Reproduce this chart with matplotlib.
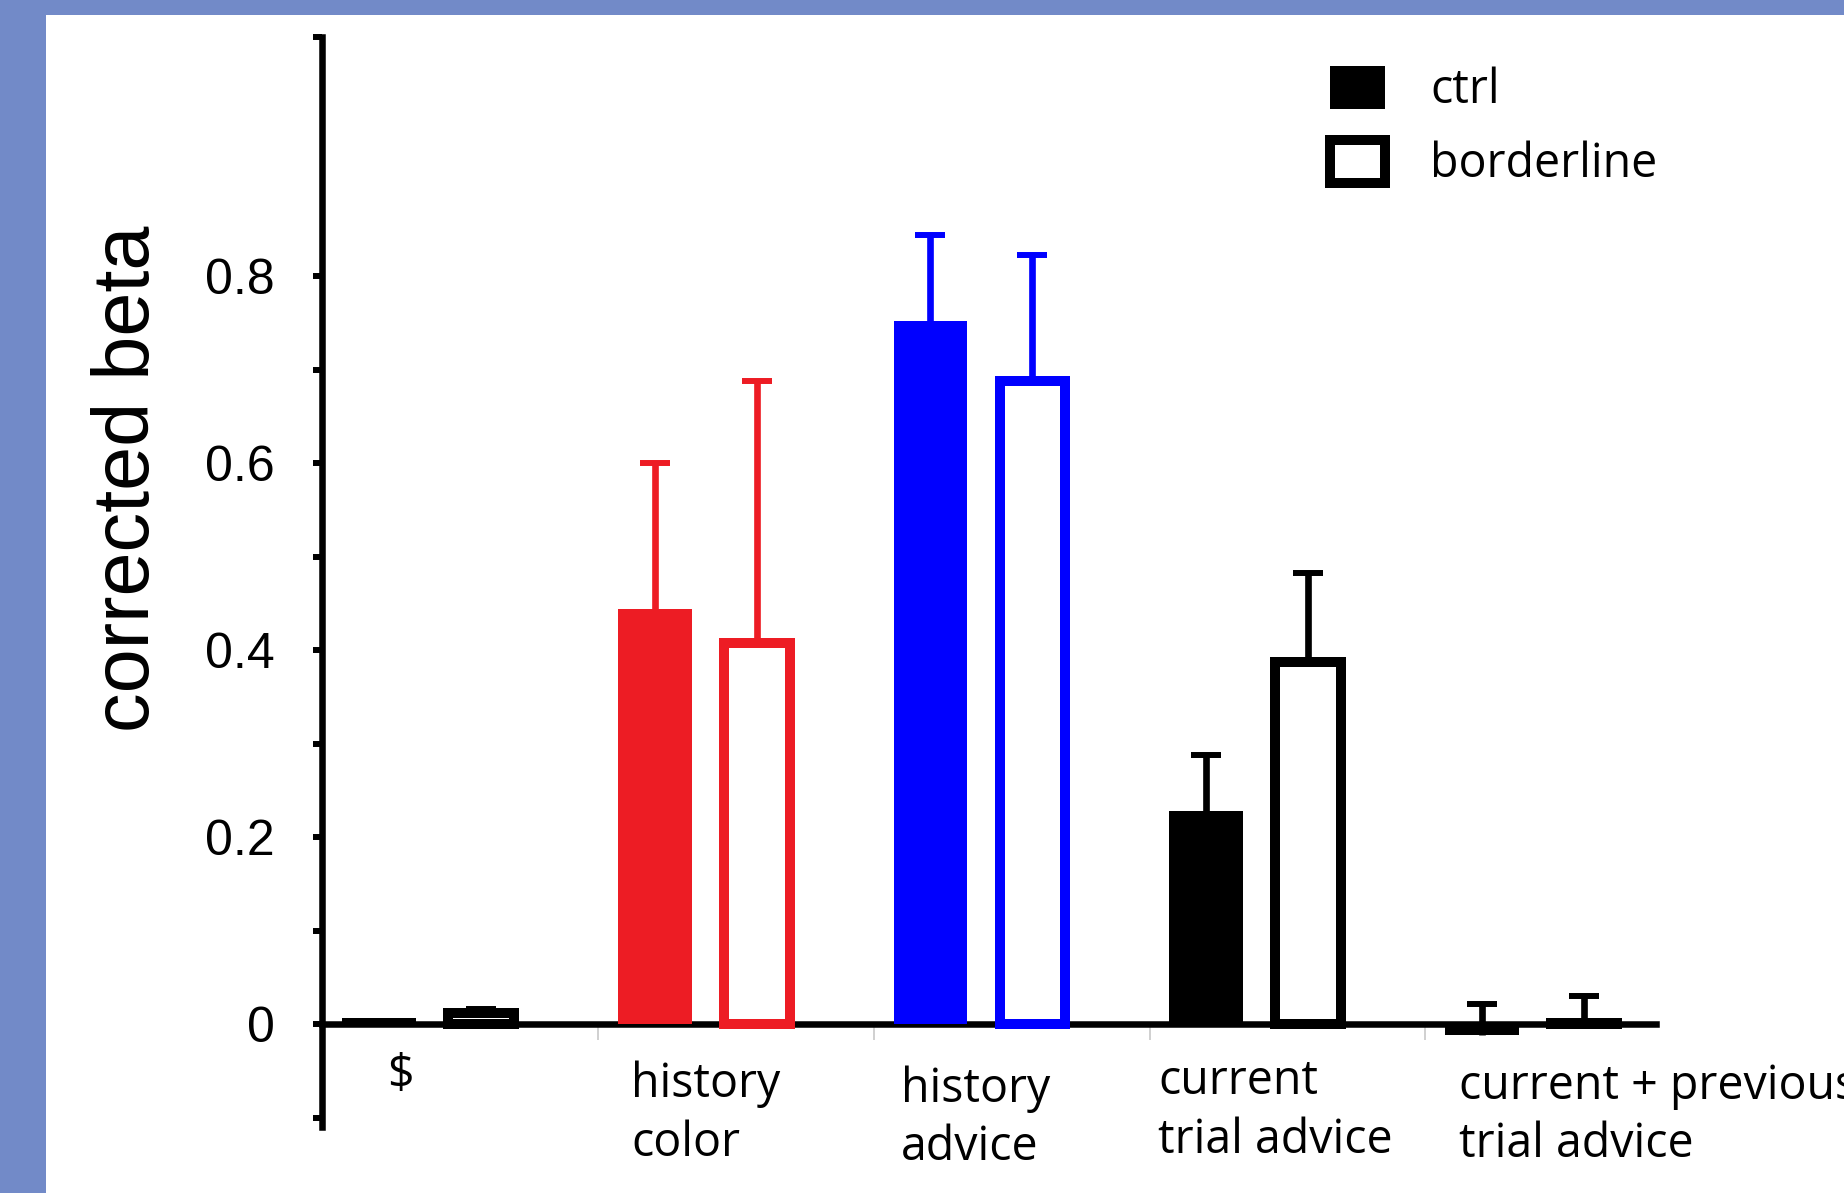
import numpy as np
import matplotlib
matplotlib.use("Agg")
import matplotlib.pyplot as plt
from matplotlib.patches import Patch, Rectangle
from matplotlib.font_manager import FontProperties

# ---------------- data ----------------
categories = ["$", "history\ncolor", "history\nadvice", "current\ntrial advice",
              "current + previous\ntrial advice"]
ctrl_vals = [0.007, 0.444, 0.752, 0.228, -0.012]
ctrl_err = [0.0, 0.156, 0.092, 0.060, 0.034]
bord_vals = [0.012, 0.408, 0.688, 0.387, 0.001]
bord_err = [0.004, 0.280, 0.135, 0.096, 0.029]
group_colors = ["black", "#ED1C24", "#0000FF", "black", "black"]
series_names = ["ctrl", "borderline"]
yticks_major = [0.0, 0.2, 0.4, 0.6, 0.8]
ytick_labels = ["0", "0.2", "0.4", "0.6", "0.8"]

# ---------------- layout ----------------
W, H = 1844, 1193
fig = plt.figure(figsize=(W / 100, H / 100), dpi=100)
fig.patch.set_facecolor("#728AC8")
fig.add_artist(Rectangle((46 / W, 0), 1 - 46 / W, 1 - 15 / H, transform=fig.transFigure,
                         facecolor="white", edgecolor="none", zorder=0))

ax = fig.add_axes([321.5 / W, 1 - 1127 / H, 1334.5 / W, 1090 / H])
ax.patch.set_visible(False)
ax.set_xlim(-0.394, 4.447)
ylo, yhi = -0.11, 1.056
ax.set_ylim(ylo, yhi)

x = np.arange(len(categories))
off = 0.185
ax.bar(x - off, ctrl_vals, width=0.267, color=group_colors, linewidth=0, zorder=3)
ax.bar(x + off, bord_vals, width=0.239, facecolor="white", edgecolor=group_colors,
       linewidth=7.2, zorder=3)
for i in range(len(categories)):
    for xi, v, e in ((x[i] - off, ctrl_vals[i], ctrl_err[i]), (x[i] + off, bord_vals[i], bord_err[i])):
        cont = ax.errorbar([xi], [v], yerr=[[0], [e]], fmt="none", ecolor=group_colors[i],
                           elinewidth=4.8, capsize=10.8, capthick=4.3, zorder=2.9)
        # keep only the upper cap
        for cap in cont[1]:
            if np.allclose(cap.get_ydata(), v):
                cap.set_visible(False)

# spines
for s in ("top", "right"):
    ax.spines[s].set_visible(False)
ax.spines["left"].set_linewidth(4.7)
ax.spines["bottom"].set_linewidth(4.7)
ax.spines["bottom"].set_position(("data", 0))
ax.spines["left"].set_zorder(2)
ax.spines["bottom"].set_zorder(2)

# y ticks
tick_font = FontProperties(family="Liberation Sans", size=36)
ax.set_yticks(yticks_major)
ax.set_yticklabels(ytick_labels, fontproperties=tick_font)
ax.set_yticks([-0.1, 0.1, 0.3, 0.5, 0.7, yhi], minor=True)
ax.tick_params(axis="y", which="both", direction="out", length=6.8, width=4.3,
               color="black", pad=27)

# x ticks (group separators)
ax.set_xticks(x[:-1] + 0.61)
ax.set_xticklabels([])
ax.tick_params(axis="x", which="both", direction="out", length=11.5, width=1.2,
               color="#c8c8c8")

# y label
ax.set_ylabel("corrected beta", family="Liberation Sans", fontsize=57, va="center", ha="center")
ax.yaxis.set_label_coords((128 - 321.5) / 1334.5, (1127 - 479) / 1090)

# category labels
lab_font = FontProperties(family="Open Sans", size=33.5)
label_dx = [-0.109, -0.271, -0.292, -0.358, -0.268]
label_y = [-0.029, -0.039, -0.044, -0.036, -0.041]
for i, lab in enumerate(categories):
    ha = "center" if i == 0 else "left"
    ax.text(x[i] + label_dx[i], label_y[i], lab, ha=ha, va="top", fontproperties=lab_font,
            linespacing=1.3, clip_on=False)

# legend
handles = [Patch(facecolor="black", edgecolor="black", linewidth=0),
           Patch(facecolor="white", edgecolor="black", linewidth=7.2)]
ax.legend(handles, series_names, loc="upper left", bbox_to_anchor=(1330 / W, 1 - 66 / H),
          bbox_transform=fig.transFigure, frameon=False, prop=lab_font,
          handlelength=1.18, handleheight=1.05, handletextpad=0.97, labelspacing=0.54,
          borderpad=0, borderaxespad=0)

fig.savefig("out.png", dpi=100, facecolor=fig.get_facecolor())
